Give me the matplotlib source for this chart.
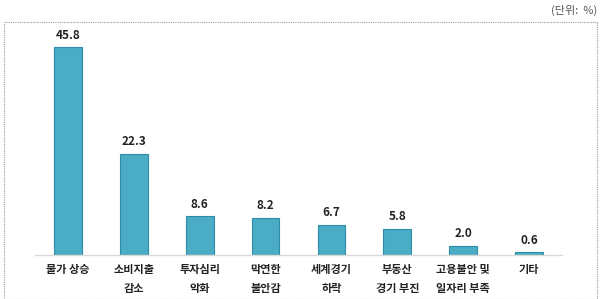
import matplotlib
matplotlib.use("Agg")
import matplotlib.pyplot as plt
from matplotlib.patches import Rectangle

plt.rcParams["font.family"] = ["Noto Sans CJK KR", "DejaVu Sans"]

categories = ["물가 상승", "소비지출\n감소", "투자심리\n악화", "막연한\n불안감",
              "세계경기\n하락", "부동산\n경기 부진", "고용불안 및\n일자리 부족", "기타"]
values = [45.8, 22.3, 8.6, 8.2, 6.7, 5.8, 2.0, 0.6]

BAR = "#4BACC6"
EDGE = "#2F8CA8"

W, H = 600, 299
fig = plt.figure(figsize=(W / 100, H / 100), dpi=100)

# dotted outer frame
fig.patches.append(Rectangle((4 / W, 0.5 / H), 593 / W, (H - 22) / H,
                             transform=fig.transFigure, fill=False,
                             edgecolor="#999999", linestyle=(0, (1, 1)), linewidth=0.8))
fig.text(597 / W, 1 - 10 / H, "(단위:  %)", ha="right", va="center",
         fontsize=8, color="#555555")

ax = fig.add_axes([35 / W, 44 / H, 527 / W, 227 / H])
x = range(len(categories))
ax.bar(x, values, width=0.42, color=BAR, edgecolor=EDGE, linewidth=0.8, zorder=2)
for i, v in zip(x, values):
    ax.text(i, v + 1.2, f"{v:.1f}", ha="center", va="bottom",
            fontsize=8.5, fontweight="bold", color="#222222")

ax.set_xlim(-0.5, len(categories) - 0.5)
ax.set_ylim(0, 50)
ax.set_yticks([])
ax.set_xticks(list(x))
ax.set_xticklabels(categories, fontsize=8, fontweight="bold", color="#222222",
                   linespacing=1.6)
ax.tick_params(axis="x", length=0, pad=6)
for s in ["top", "left", "right"]:
    ax.spines[s].set_visible(False)
ax.spines["bottom"].set_color("#D9D9D9")
ax.spines["bottom"].set_linewidth(1.0)

fig.savefig("out.png", dpi=100, facecolor="white")
